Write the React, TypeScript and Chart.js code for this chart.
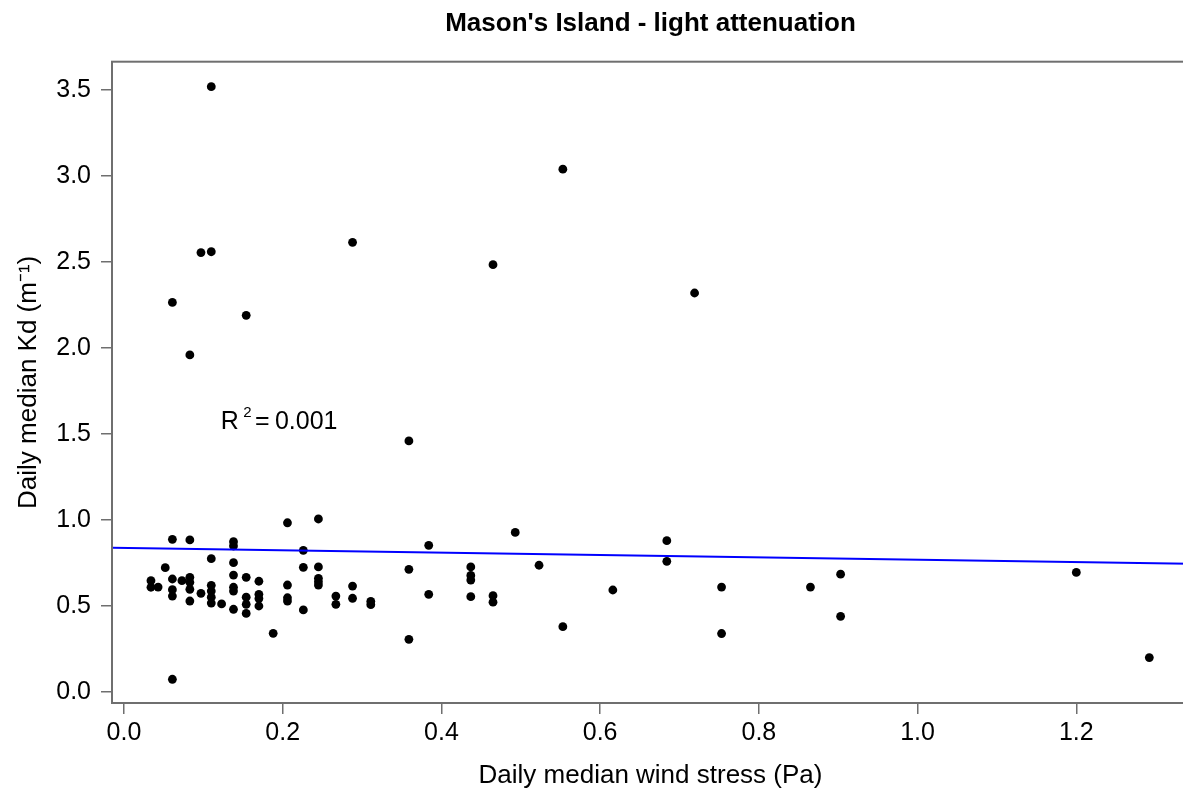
import React, { useEffect, useRef } from "react";
import { Chart, registerables } from "chart.js";

Chart.register(...registerables);

// Daily median wind stress (Pa)
const windStress = [
  0.061, 0.083, 0.052, 0.034, 0.034, 0.043, 0.061, 0.061, 0.061, 0.073,
  0.083, 0.083, 0.083, 0.083, 0.097, 0.110, 0.110, 0.110, 0.110, 0.110,
  0.123, 0.138, 0.138, 0.138, 0.138, 0.138, 0.138, 0.138, 0.154, 0.154,
  0.154, 0.154, 0.170, 0.170, 0.170, 0.170, 0.188, 0.061, 0.206, 0.206,
  0.206, 0.206, 0.226, 0.226, 0.226, 0.245, 0.245, 0.245, 0.245, 0.245,
  0.267, 0.267, 0.288, 0.288, 0.311, 0.311, 0.359, 0.359, 0.384, 0.384,
  0.437, 0.437, 0.437, 0.437, 0.465, 0.465, 0.493, 0.523, 0.553, 0.616,
  0.110, 0.553, 0.097, 0.110, 0.288, 0.465, 0.061, 0.719, 0.154, 0.083,
  0.359, 0.684, 0.684, 0.753, 0.753, 0.865, 0.903, 0.903, 1.200, 1.292,
];

// Daily median Kd (m^-1)
const kd = [
  0.888, 0.884, 0.723, 0.647, 0.609, 0.610, 0.657, 0.595, 0.558, 0.647,
  0.667, 0.638, 0.597, 0.529, 0.574, 0.775, 0.620, 0.587, 0.551, 0.517,
  0.512, 0.874, 0.849, 0.752, 0.680, 0.609, 0.587, 0.481, 0.667, 0.551,
  0.510, 0.457, 0.644, 0.568, 0.543, 0.500, 0.341, 0.074, 0.984, 0.622,
  0.548, 0.529, 0.824, 0.725, 0.477, 1.006, 0.727, 0.661, 0.641, 0.622,
  0.558, 0.510, 0.616, 0.545, 0.527, 0.508, 0.713, 0.306, 0.853, 0.568,
  0.727, 0.678, 0.651, 0.554, 0.560, 0.522, 0.928, 0.737, 0.380, 0.593,
  3.520, 3.040, 2.555, 2.560, 2.615, 2.485, 2.265, 2.320, 2.190, 1.960,
  1.460, 0.880, 0.760, 0.610, 0.340, 0.610, 0.685, 0.440, 0.695, 0.200,
];

const xTickValues = [0, 0.2, 0.4, 0.6, 0.8, 1.0, 1.2];
const yTickValues = [0, 0.5, 1.0, 1.5, 2.0, 2.5, 3.0, 3.5];

// linear fit (abline)
const fitIntercept = 0.838;
const fitSlope = -0.069;

const xLimits = [-0.0151, 1.342];
const yLimits = [-0.064, 3.665];

const titleText = "Mason's Island - light attenuation";
const xTitle = "Daily median wind stress (Pa)";
const yTitle = "Daily median Kd (m\u207B\u00B9)";
const r2Value = "0.001";
const r2Anchor = [0.122, 1.527];

const FONT = "'Liberation Sans', Arial, Helvetica, sans-serif";
const AXIS_GRAY = "#6f6f6f";

const boxPlugin = {
  id: "rbox",
  afterDraw(chart: any) {
    const { ctx, chartArea } = chart;
    const { left, top, right, bottom } = chartArea;
    ctx.save();
    ctx.strokeStyle = AXIS_GRAY;
    ctx.lineWidth = 2;
    ctx.strokeRect(left, top, right - left, bottom - top);
    ctx.restore();
  },
};

const r2Plugin = {
  id: "r2text",
  afterDatasetsDraw(chart: any) {
    const { ctx, scales } = chart;
    const x0 = scales.x.getPixelForValue(r2Anchor[0]);
    const y0 = scales.y.getPixelForValue(r2Anchor[1]);
    ctx.save();
    ctx.fillStyle = "#000";
    ctx.textBaseline = "alphabetic";
    ctx.textAlign = "left";
    ctx.font = `25px ${FONT}`;
    ctx.fillText("R", x0, y0);
    let x = x0 + ctx.measureText("R").width + 4.5;
    ctx.font = `15px ${FONT}`;
    ctx.fillText("2", x, y0 - 12);
    x += ctx.measureText("2").width + 3.2;
    ctx.font = `25px ${FONT}`;
    ctx.fillText("=", x, y0);
    x += ctx.measureText("=").width + 5.4;
    ctx.fillText(r2Value, x, y0);
    ctx.restore();
  },
};

export default function App() {
  const canvasRef = useRef<HTMLCanvasElement | null>(null);

  useEffect(() => {
    if (!canvasRef.current) return;
    const points = windStress.map((x, i) => ({ x, y: kd[i] }));
    const fitLine = xLimits.map((x) => ({ x, y: fitIntercept + fitSlope * x }));
    const tickFont = { family: FONT, size: 25 };
    const labFont = { family: FONT, size: 26 };

    const chart = new Chart(canvasRef.current, {
      type: "scatter",
      data: {
        datasets: [
          {
            label: "fit",
            data: fitLine,
            showLine: true,
            borderColor: "#0000ff",
            borderWidth: 2,
            pointRadius: 0,
            order: 0,
          } as any,
          {
            label: "Kd",
            data: points,
            backgroundColor: "#000",
            borderColor: "#000",
            borderWidth: 0,
            pointRadius: 4.4,
            order: 1,
          },
        ],
      },
      options: {
        responsive: false,
        maintainAspectRatio: false,
        animation: false,
        devicePixelRatio: 1,
        layout: { padding: { left: 0, top: 0, right: 6, bottom: 0 } },
        plugins: {
          legend: { display: false },
          tooltip: { enabled: false },
          title: {
            display: true,
            text: titleText,
            fullSize: false,
            color: "#000",
            font: { family: FONT, size: 26, weight: "bold" },
            padding: { top: 8, bottom: 22.5 },
          },
        },
        scales: {
          x: {
            type: "linear",
            min: xLimits[0],
            max: xLimits[1],
            afterBuildTicks: (s: any) => {
              s.ticks = xTickValues.map((v) => ({ value: v }));
            },
            afterFit: (s: any) => {
              s.height = 91;
            },
            border: { display: false },
            grid: {
              drawOnChartArea: false,
              drawTicks: true,
              tickLength: 11,
              color: AXIS_GRAY,
              lineWidth: 1.5,
            },
            ticks: {
              font: tickFont,
              color: "#000",
              padding: 4,
              maxRotation: 0,
              autoSkip: false,
              callback: (v: any) => Number(v).toFixed(1),
            },
            title: {
              display: true,
              text: xTitle,
              color: "#000",
              font: labFont,
              padding: { top: 0, bottom: 3 },
            },
          },
          y: {
            type: "linear",
            min: yLimits[0],
            max: yLimits[1],
            afterBuildTicks: (s: any) => {
              s.ticks = yTickValues.map((v) => ({ value: v }));
            },
            afterFit: (s: any) => {
              s.width = 112;
            },
            border: { display: false },
            grid: {
              drawOnChartArea: false,
              drawTicks: true,
              tickLength: 11,
              color: AXIS_GRAY,
              lineWidth: 1.5,
            },
            ticks: {
              font: tickFont,
              color: "#000",
              padding: 10,
              autoSkip: false,
              callback: (v: any) => Number(v).toFixed(1),
            },
            title: {
              display: true,
              text: yTitle,
              color: "#000",
              font: labFont,
              padding: { top: 13, bottom: 0 },
            },
          },
        },
      },
      plugins: [boxPlugin, r2Plugin],
    });
    return () => chart.destroy();
  }, []);

  return (
    <div
      style={{
        position: "absolute",
        left: 0,
        top: 0,
        width: 1183,
        height: 794,
        overflow: "hidden",
        background: "#fff",
      }}
    >
      <canvas ref={canvasRef} width={1195} height={794} style={{ display: "block" }} />
    </div>
  );
}
